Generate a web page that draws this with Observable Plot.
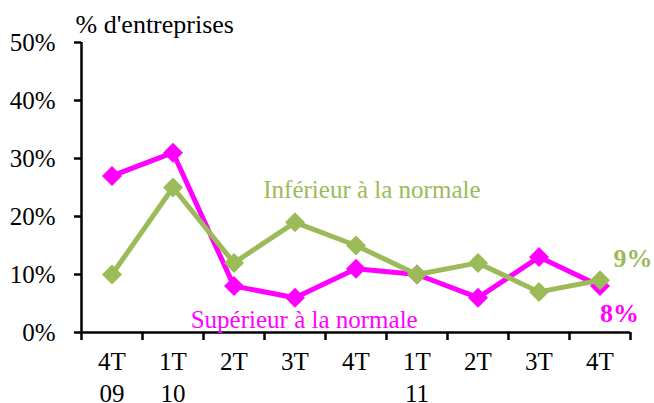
<!DOCTYPE html>
<html>
<head>
<meta charset="utf-8">
<script src="https://cdn.jsdelivr.net/npm/d3@7"></script>
<script src="https://cdn.jsdelivr.net/npm/@observablehq/plot@0.6"></script>
<style>
  html, body { margin: 0; padding: 0; background: #fff; }
  svg { display: block; }
  svg, svg text { font-family: 'Liberation Serif', 'Times New Roman', serif !important; }
</style>
</head>
<body>
<div id="chart"></div>
<script>
const categories = ["4T\n09", "1T\n10", "2T", "3T", "4T", "1T\n11", "2T", "3T", "4T"];
const superieur = [27, 31, 8, 6, 11, 10, 6, 13, 8];
const inferieur = [10, 25, 12, 19, 15, 10, 12, 7, 9];
const yTicks = [0, 10, 20, 30, 40, 50];
const title = "% d'entreprises";

const MAG = "#FF00FF";
const GRN = "#9BBB59";

const idx = categories.map((_, i) => i);
const supData = idx.map(i => ({i, v: superieur[i]}));
const infData = idx.map(i => ({i, v: inferieur[i]}));
const bounds = d3.range(-0.5, categories.length, 1);
const last = categories.length - 1;

const chart = Plot.plot({
  width: 654,
  height: 403,
  marginLeft: 81,
  marginRight: 24,
  marginTop: 42,
  marginBottom: 71,
  style: "font-family: 'Liberation Serif', 'Times New Roman', serif; font-size: 25px; color: #000; background: #fff;",
  x: {domain: [-0.5, last + 0.5], axis: null},
  y: {domain: [0, 50], axis: null},
  marks: [
    // y axis
    Plot.axisY({ticks: yTicks, tickFormat: d => d + "%", tickSize: 7, tickPadding: 19, strokeWidth: 2.5, fontSize: 25, fill: "#000", label: null}),
    // x axis boundary ticks
    Plot.axisX({ticks: bounds, tickFormat: () => "", tickSize: 8, strokeWidth: 2.5, label: null}),
    // x labels
    Plot.axisX({ticks: idx, tickFormat: i => categories[i], tickSize: 0, tickPadding: 14, fontSize: 25, lineHeight: 1.3, fill: "#000", label: null}),
    Plot.ruleX([-0.5], {y1: 0, y2: 50, stroke: "#000", strokeWidth: 2.5}),
    Plot.ruleY([0], {stroke: "#000", strokeWidth: 2.5}),
    // series
    Plot.line(supData, {x: "i", y: "v", stroke: MAG, strokeWidth: 5}),
    Plot.dot(supData, {x: "i", y: "v", symbol: "diamond2", r: 9, fill: MAG, stroke: null}),
    Plot.line(infData, {x: "i", y: "v", stroke: GRN, strokeWidth: 5}),
    Plot.dot(infData, {x: "i", y: "v", symbol: "diamond2", r: 9, fill: GRN, stroke: null}),
    // labels
    Plot.text(["Inférieur à la normale"], {x: 2.48, y: 24.5, text: d => d, textAnchor: "start", fill: GRN, fontSize: 25}),
    Plot.text(["Supérieur à la normale"], {x: 1.29, y: 2.1, text: d => d, textAnchor: "start", fill: MAG, fontSize: 25}),
    Plot.text([inferieur[last] + "%"], {x: last + 0.22, y: 12.8, text: d => d, textAnchor: "start", fill: GRN, fontSize: 26, fontWeight: "bold"}),
    Plot.text([superieur[last] + "%"], {x: last + 0.0, y: 3.2, text: d => d, textAnchor: "start", fill: MAG, fontSize: 26, fontWeight: "bold"}),
    // title
    Plot.text([title], {frameAnchor: "top-left", lineAnchor: "middle", dx: -6, dy: -18, text: d => d, textAnchor: "start", fill: "#000", fontSize: 26})
  ]
});
document.getElementById("chart").appendChild(chart);
</script>
</body>
</html>
